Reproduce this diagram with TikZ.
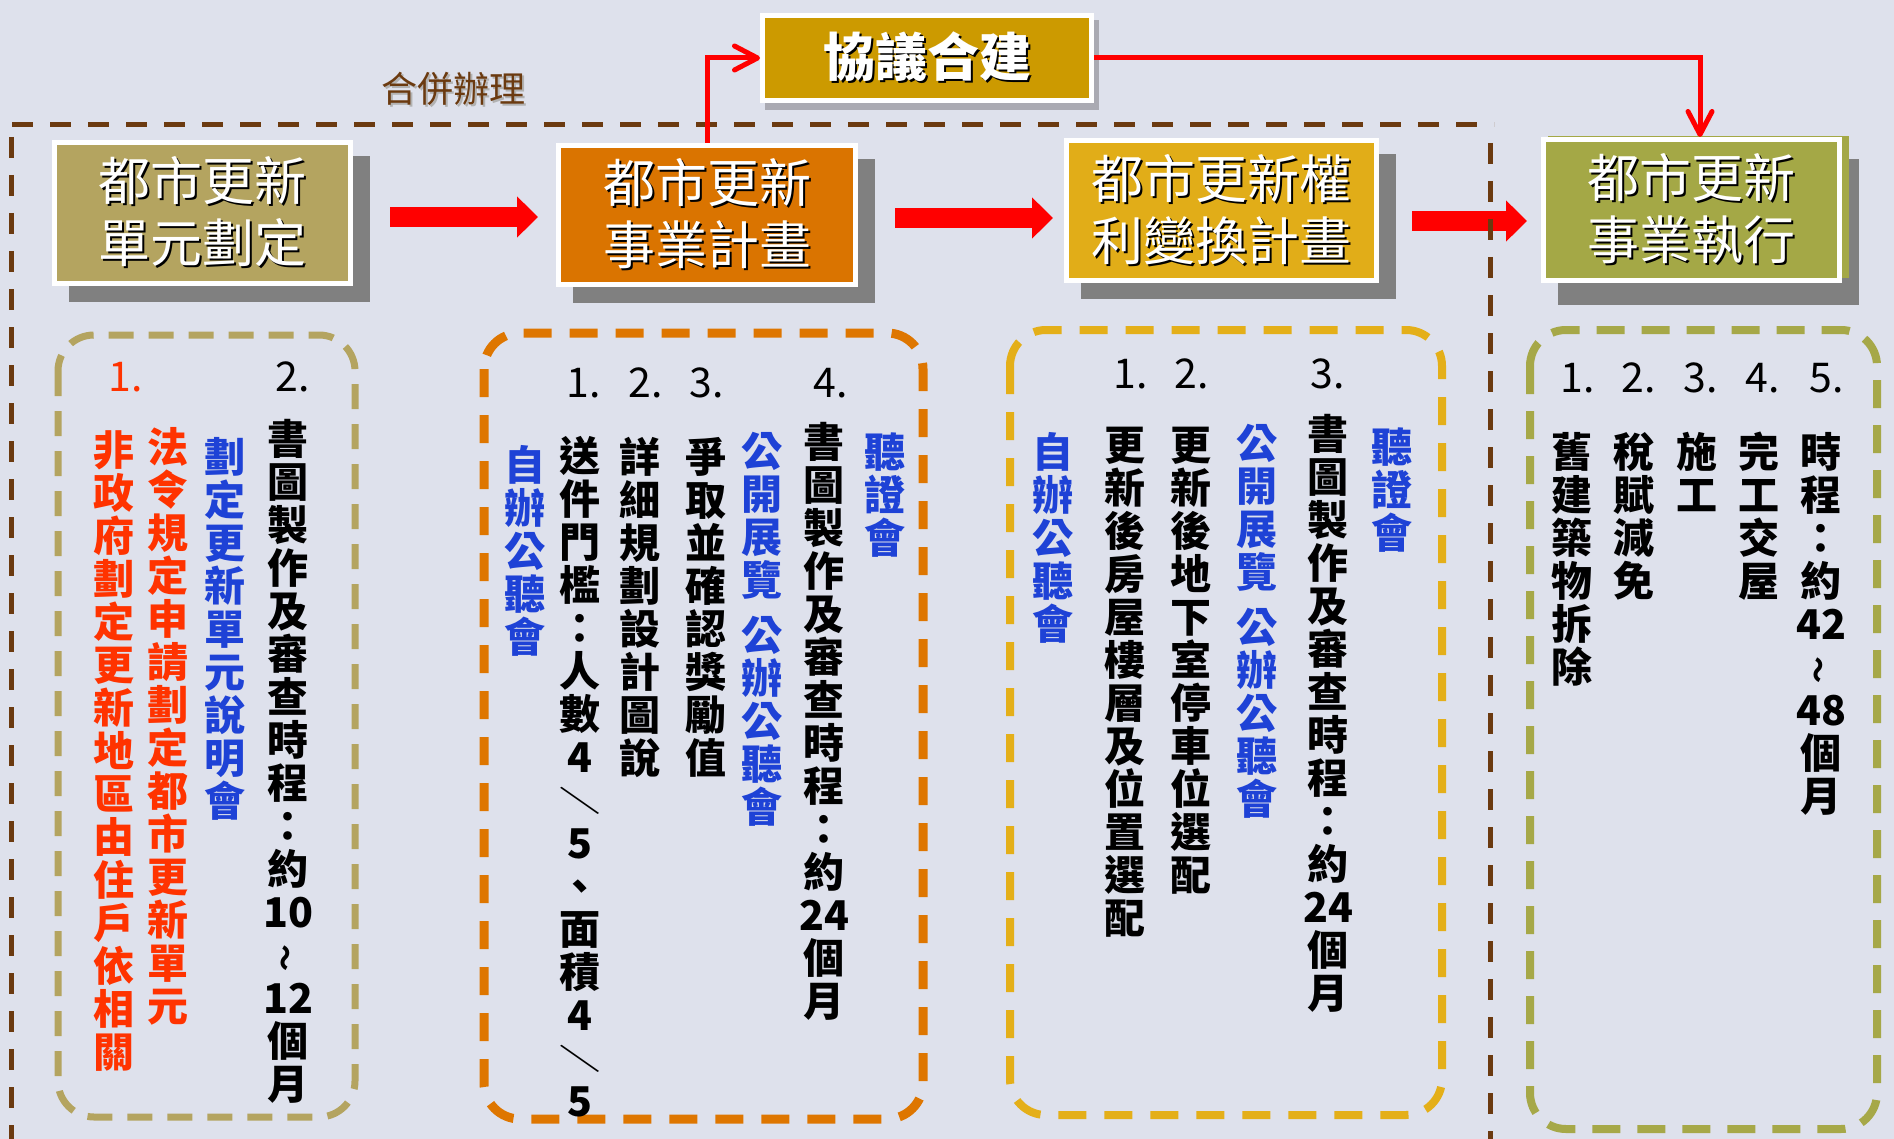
\documentclass[tikz,border=0pt]{standalone}
\usepackage{fontspec}
\usepackage{graphicx}
\newfontfamily\cjk{Noto Sans CJK TC}
\usetikzlibrary{arrows.meta,calc}
\definecolor{bg}{RGB}{222,225,236}
\definecolor{frbrown}{RGB}{107,58,16}
\definecolor{cA}{RGB}{180,164,96}
\definecolor{cB}{RGB}{218,116,0}
\definecolor{cC}{RGB}{225,173,24}
\definecolor{cD}{RGB}{164,168,70}
\definecolor{cK}{RGB}{204,154,0}
\definecolor{dB}{RGB}{222,118,0}
\definecolor{dC}{RGB}{228,175,25}
\definecolor{dD}{RGB}{166,168,72}
\definecolor{tblue}{RGB}{30,66,214}
\definecolor{tred}{RGB}{255,51,0}
\definecolor{shgray}{RGB}{128,128,128}
\definecolor{shlight}{RGB}{170,170,178}
\makeatletter
\newcommand\vgap{}
\def\vc@gapmark{\vgap}
\newcommand\vcol[1]{\vtop{\@tfor\vc@x:=#1\do{\ifx\vc@x\vc@gapmark\vskip0.3em\relax\else\hbox to 1.3em{\hss\vc@x\hss}\fi}}}
\makeatother
\newcommand\vtil{\raisebox{0.12em}{\rotatebox[origin=c]{90}{\scalebox{0.65}{～}}}}
\newcommand\vsl{\raisebox{0.1em}{\scalebox{1}[0.7]{\rotatebox[origin=c]{-90}{／}}}}
\newcommand\sht[1]{\rlap{\kern1pt\raisebox{-1pt}{\color{black}#1}}#1}
\newcommand\shg[1]{\rlap{\kern1pt\raisebox{-1pt}{\color{black!30}#1}}#1}
\begin{document}
\begin{tikzpicture}[x=0.5pt,y=-0.5pt,
  stagebox/.style={draw=white, line width=2.5pt, text=white, align=center, inner sep=0pt, font=\cjk\fontsize{26pt}{31pt}\selectfont},
  shadowbox/.style={fill=shgray, draw=shgray, line width=2.5pt, inner sep=0pt},
  dbox/.style={rounded corners=18pt},
  vcolumn/.style={anchor=north, inner sep=0pt, font=\cjk\bfseries\fontsize{20.5pt}{21.5pt}\selectfont},
  numlabel/.style={inner sep=0pt, font=\cjk\fontsize{20.5pt}{24pt}\selectfont},
  blockarrow/.style={draw=red, line width=10pt, -{Triangle[length=10.5pt,width=20pt]}},
  thinred/.style={draw=red, line width=2.5pt, -{Straight Barb[length=11.5pt,width=12pt,round]}},
  brownframe/.style={draw=frbrown, line width=2.5pt, dash pattern=on 10.5pt off 8.5pt}]
\useasboundingbox (0,0) rectangle (1894,1139);
\fill[bg] (0,0) rectangle (1894,1139);

% dashed rounded groups
\draw[dbox, draw=cA, line width=3.5pt, dash pattern=on 12.5pt off 7.5pt] (58,335) rectangle (355,1117);
\draw[dbox, draw=dB, line width=4.5pt, dash pattern=on 14pt off 9pt] (484,333) rectangle (923,1119);
\draw[dbox, draw=dC, line width=4pt, dash pattern=on 14pt off 9pt] (1010,330) rectangle (1442,1115);
\draw[dbox, draw=dD, line width=4pt, dash pattern=on 14pt off 8.5pt] (1530,330) rectangle (1877,1129);

% shadows
\node[shadowbox, minimum width=148.25pt, minimum height=70.5pt] (b1s) at (219.25,229) {};
\node[shadowbox, minimum width=148.5pt, minimum height=69.5pt] (b2s) at (724,231) {};
\node[shadowbox, minimum width=154.75pt, minimum height=70pt] (b3s) at (1238.25,226.5) {};
\node[shadowbox, minimum width=148pt, minimum height=70.5pt] (b4s) at (1708.5,232) {};
\node[shadowbox, fill=shlight, draw=shlight, minimum width=164.5pt, minimum height=42.5pt] (kbs) at (932,65) {};
\fill[cD] (1548,136) rectangle (1849,278);

% stage boxes
\node[stagebox, fill=cA, minimum width=148.25pt, minimum height=70.5pt] (b1) at (202.25,213) {\sht{都市更新}\\\sht{單元劃定}};
\node[stagebox, fill=cB, minimum width=148.5pt, minimum height=69.5pt] (b2) at (707,215) {\sht{都市更新}\\\sht{事業計畫}};
\node[stagebox, fill=cC, minimum width=154.75pt, minimum height=70pt] (b3) at (1221.25,210.5) {\sht{都市更新權}\\\sht{利變換計畫}};
\node[stagebox, fill=cD, minimum width=148pt, minimum height=70.5pt] (b4) at (1691.5,210) {\sht{都市更新}\\\sht{事業執行}};
\node[stagebox, fill=cK, font=\cjk\bfseries\fontsize{26pt}{31pt}\selectfont, minimum width=164.5pt, minimum height=42.5pt] (kb) at (927,58) {\sht{協議合建}};

\node[inner sep=0pt, text=frbrown, font=\cjk\fontsize{18pt}{20pt}\selectfont] (hb) at (453,90) {\shg{合併辦理}};

% block arrows
\draw[blockarrow] ($(b1.east)+(37,4)$) -- ($(b2.west)+(-18,2)$);
\draw[blockarrow] ($(b2.east)+(37,3)$) -- ($(b3.west)+(-11,7.5)$);
\draw[blockarrow] ($(b3.east)+(33.5,10.5)$) -- ($(b4.west)+(-14,11)$);

% brown dashed frame
\draw[brownframe] (12,124.5) -- (1494,124.5);
\draw[brownframe] (11,137) -- (11,1139);
\draw[brownframe] (1490,143) -- (1490,1139);

% thin red connectors
\draw[thinred] (b2.north) |- (kb.west);
\draw[thinred] (kb.east) -| ($(b4.north)+(8.5,0)$);

% group A
\node[numlabel, text=tred] (nA1) at (126,377) {1.};
\node[numlabel] (nA2) at (293,377) {2.};
\node[vcolumn, text=tred] (cA1) at (114,430) {\vcol{非政府劃定更新地區由住戶依相關}};
\node[vcolumn, text=tred] (cA2) at (168,427) {\vcol{法令規定申請劃定都市更新單元}};
\node[vcolumn, text=tblue] (cA3) at (225,437) {\vcol{劃定更新單元說明會}};
\node[vcolumn] (cA4) at (288,419) {\vcol{書圖製作及審查時程：約{10}\vtil{12}個月}};

% group B
\node[numlabel] (nB1) at (584,383) {1.};
\node[numlabel] (nB2) at (646,383) {2.};
\node[numlabel] (nB3) at (707,383) {3.};
\node[numlabel] (nB4) at (831,383) {4.};
\node[vcolumn, text=tblue] (cB0) at (525,445) {\vcol{自辦公聽會}};
\node[vcolumn] (cB1) at (580,436) {\vcol{送件門檻：人數4\vsl 5、面積4\vsl 5}};
\node[vcolumn] (cB2) at (640,437) {\vcol{詳細規劃設計圖說}};
\node[vcolumn] (cB3) at (706,437) {\vcol{爭取並確認獎勵值}};
\node[vcolumn, text=tblue] (cB4) at (762,432) {\vcol{公開展覽\vgap 公辦公聽會}};
\node[vcolumn] (cB5) at (824,422) {\vcol{書圖製作及審查時程：約{24}個月}};
\node[vcolumn, text=tblue] (cB6) at (885,432) {\vcol{聽證會}};

% group C
\node[numlabel] (nC1) at (1131,374) {1.};
\node[numlabel] (nC2) at (1192,374) {2.};
\node[numlabel] (nC3) at (1328,374) {3.};
\node[vcolumn, text=tblue] (cC0) at (1053,432) {\vcol{自辦公聽會}};
\node[vcolumn] (cC1) at (1125,427) {\vcol{更新後房屋樓層及位置選配}};
\node[vcolumn] (cC2) at (1191,427) {\vcol{更新後地下室停車位選配}};
\node[vcolumn, text=tblue] (cC3) at (1257,424) {\vcol{公開展覽\vgap 公辦公聽會}};
\node[vcolumn] (cC4) at (1328,414) {\vcol{書圖製作及審查時程：約{24}個月}};
\node[vcolumn, text=tblue] (cC5) at (1392,427) {\vcol{聽證會}};

% group D
\node[numlabel] (nD1) at (1578,378) {1.};
\node[numlabel] (nD2) at (1639,378) {2.};
\node[numlabel] (nD3) at (1701,378) {3.};
\node[numlabel] (nD4) at (1763,378) {4.};
\node[numlabel] (nD5) at (1827,378) {5.};
\node[vcolumn] (cD1) at (1572,432) {\vcol{舊建築物拆除}};
\node[vcolumn] (cD2) at (1634,432) {\vcol{稅賦減免}};
\node[vcolumn] (cD3) at (1697,432) {\vcol{施工}};
\node[vcolumn] (cD4) at (1759,432) {\vcol{完工交屋}};
\node[vcolumn] (cD5) at (1821,432) {\vcol{時程：約{42}\vtil{48}個月}};
\end{tikzpicture}
\end{document}
